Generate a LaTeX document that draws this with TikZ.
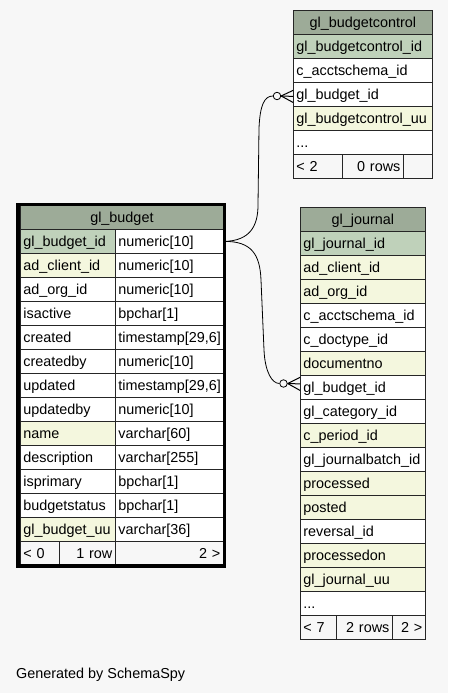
\documentclass[tikz,border=0pt]{standalone}
\usepackage{fontspec}
\setmainfont{Liberation Sans}
\definecolor{hdrgreen}{HTML}{9DAB98}
\definecolor{pkgreen}{HTML}{BFD1BA}
\definecolor{fkyellow}{HTML}{F4F7DE}
\definecolor{paper}{HTML}{F7F7F7}
\begin{document}
\begin{tikzpicture}[x=1pt,y=-1pt,
        cell/.style={draw=black!85,line width=0.8pt,anchor=north west,
            minimum height=24pt,inner xsep=3pt,inner ysep=0pt,
            text height=11pt,text depth=0pt,align=left,fill=white,
            font=\fontsize{14.4}{16}\selectfont},
        head/.style={cell,fill=hdrgreen,align=center},
        pk/.style={cell,fill=pkgreen},
        fk/.style={cell,fill=fkyellow},
        foot/.style={cell,fill=white!97!black},
        bname/.style={text width=89pt},
        btype/.style={text width=102pt},
        cwide/.style={text width=133pt},
        jwide/.style={text width=119pt},
        edge/.style={draw=black,line width=0.8pt},
        odot/.style={circle,draw=black,fill=paper,line width=0.8pt,
            minimum size=7.5pt,inner sep=0pt}]
\fill[paper] (0,0) rectangle (448,693);
\useasboundingbox (0,0) rectangle (448,693);

% gl_budgetcontrol
\node[head,cwide] (c0) at (293,10) {gl\_budgetcontrol};
\node[pk,cwide] (c1) at (293,34) {gl\_budgetcontrol\_id};
\node[cell,cwide] (c2) at (293,58) {c\_acctschema\_id};
\node[cell,cwide] (c3) at (293,82) {gl\_budget\_id};
\node[fk,cwide] (c4) at (293,106) {gl\_budgetcontrol\_uu};
\node[cell,cwide] (c5) at (293,130) {...};
\node[foot,text width=43pt] (cf1) at (293,154) {< 2};
\node[foot,text width=55pt,align=right] (cf2) at (342,154) {0 rows};
\node[foot,text width=23pt] (cf3) at (403,154) {};

% gl_budget
\node[head,text width=197pt] (b0) at (20,205) {gl\_budget};
\node[pk,bname] (b1) at (20,229) {gl\_budget\_id};
\node[cell,btype] (b1t) at (115,229) {numeric[10]};
\node[fk,bname] (b2) at (20,253) {ad\_client\_id};
\node[cell,btype] (b2t) at (115,253) {numeric[10]};
\node[cell,bname] (b3) at (20,277) {ad\_org\_id};
\node[cell,btype] (b3t) at (115,277) {numeric[10]};
\node[cell,bname] (b4) at (20,301) {isactive};
\node[cell,btype] (b4t) at (115,301) {bpchar[1]};
\node[cell,bname] (b5) at (20,325) {created};
\node[cell,btype] (b5t) at (115,325) {timestamp[29,6]};
\node[cell,bname] (b6) at (20,349) {createdby};
\node[cell,btype] (b6t) at (115,349) {numeric[10]};
\node[cell,bname] (b7) at (20,373) {updated};
\node[cell,btype] (b7t) at (115,373) {timestamp[29,6]};
\node[cell,bname] (b8) at (20,397) {updatedby};
\node[cell,btype] (b8t) at (115,397) {numeric[10]};
\node[fk,bname] (b9) at (20,421) {name};
\node[cell,btype] (b9t) at (115,421) {varchar[60]};
\node[cell,bname] (b10) at (20,445) {description};
\node[cell,btype] (b10t) at (115,445) {varchar[255]};
\node[cell,bname] (b11) at (20,469) {isprimary};
\node[cell,btype] (b11t) at (115,469) {bpchar[1]};
\node[cell,bname] (b12) at (20,493) {budgetstatus};
\node[cell,btype] (b12t) at (115,493) {bpchar[1]};
\node[fk,bname] (b13) at (20,517) {gl\_budget\_uu};
\node[cell,btype] (b13t) at (115,517) {varchar[36]};
\node[foot,text width=33pt] (bf1) at (20,541) {< 0};
\node[foot,text width=50pt,align=right] (bf2) at (59,541) {1 row};
\node[foot,btype,align=right] (bf3) at (115,541) {2 >};
\draw[line width=3.5pt] (18,204.5) rectangle (224.7,566);

% gl_journal
\node[head,jwide] (j0) at (300,207) {gl\_journal};
\node[pk,jwide] (j1) at (300,231) {gl\_journal\_id};
\node[fk,jwide] (j2) at (300,255) {ad\_client\_id};
\node[fk,jwide] (j3) at (300,279) {ad\_org\_id};
\node[cell,jwide] (j4) at (300,303) {c\_acctschema\_id};
\node[cell,jwide] (j5) at (300,327) {c\_doctype\_id};
\node[fk,jwide] (j6) at (300,351) {documentno};
\node[cell,jwide] (j7) at (300,375) {gl\_budget\_id};
\node[cell,jwide] (j8) at (300,399) {gl\_category\_id};
\node[fk,jwide] (j9) at (300,423) {c\_period\_id};
\node[cell,jwide] (j10) at (300,447) {gl\_journalbatch\_id};
\node[fk,jwide] (j11) at (300,471) {processed};
\node[fk,jwide] (j12) at (300,495) {posted};
\node[cell,jwide] (j13) at (300,519) {reversal\_id};
\node[fk,jwide] (j14) at (300,543) {processedon};
\node[fk,jwide] (j15) at (300,567) {gl\_journal\_uu};
\node[cell,jwide] (j16) at (300,591) {...};
\node[foot,text width=30pt] (jf1) at (300,615) {< 7};
\node[foot,text width=50pt,align=right] (jf2) at (336,615) {2 rows};
\node[foot,text width=27pt,align=right] (jf3) at (392,615) {2 >};

% relations
\node[odot] (cdot) at (277,96) {};
\node[odot] (jdot) at (283.5,383.5) {};
\draw[edge] (b1t.east) .. controls (250,241) and (258,226) .. (258,205)
    -- (259,128) .. controls (260,106) and (264,96) .. (cdot.west);
\draw[edge] (b1t.east) .. controls (252,241) and (260,255) .. (261,280)
    -- (264,350) .. controls (265,372) and (272,383.5) .. (jdot.west);
\draw[edge,line width=1pt] (cdot.east) -- ([yshift=4pt]c3.west);
\draw[edge,line width=1pt] (cdot.east) -- ([yshift=-2pt]c3.west);
\draw[edge,line width=1pt] (cdot.east) -- ([yshift=-8pt]c3.west);
\draw[edge,line width=1pt] (jdot.east) -- ([yshift=10pt]j7.west);
\draw[edge,line width=1pt] (jdot.east) -- ([yshift=3.5pt]j7.west);
\draw[edge,line width=1pt] (jdot.east) -- ([yshift=-3pt]j7.west);

\node[anchor=base west,inner sep=0pt,font=\fontsize{14.4}{16}\selectfont]
    (credit) at (16,678) {Generated by SchemaSpy};
\end{tikzpicture}
\end{document}
